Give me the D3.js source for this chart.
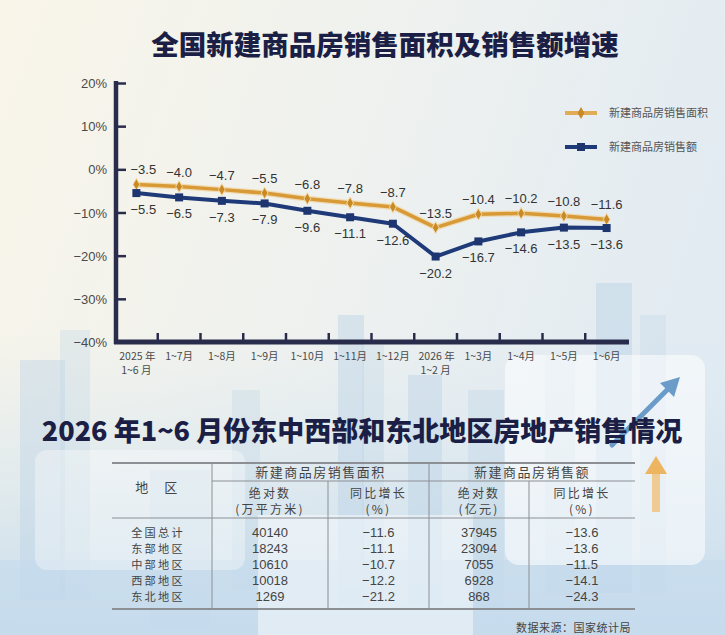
<!DOCTYPE html>
<html>
  <head>
    <meta charset="UTF-8" />
    <title>全国新建商品房销售面积及销售额增速</title>
    <style>
      html, body { margin: 0; padding: 0; background: #f3f3ee; }
      svg { display: block; }
    </style>
  </head>
  <body>
    <script src="https://cdn.jsdelivr.net/npm/d3@7/dist/d3.min.js"></script>
    <script>
      // chart data
      var months = ["2025 年|1~6 月", "1~7月", "1~8月", "1~9月", "1~10月", "1~11月",
                    "1~12月", "2026 年|1~2 月", "1~3月", "1~4月", "1~5月", "1~6月"];
      var areaGrowth  = [-3.5, -4.0, -4.7, -5.5, -6.8, -7.8, -8.7, -13.5, -10.4, -10.2, -10.8, -11.6];
      var salesGrowth = [-5.5, -6.5, -7.3, -7.9, -9.6, -11.1, -12.6, -20.2, -16.7, -14.6, -13.5, -13.6];
      var yTicks = [20, 10, 0, -10, -20, -30, -40];
      var seriesNames = ["新建商品房销售面积", "新建商品房销售额"];

      // table data
      var regions   = ["全国总计", "东部地区", "中部地区", "西部地区", "东北地区"];
      var areaAbs   = ["40140", "18243", "10610", "10018", "1269"];
      var areaYoy   = ["-11.6", "-11.1", "-10.7", "-12.2", "-21.2"];
      var salesAbs  = ["37945", "23094", "7055", "6928", "868"];
      var salesYoy  = ["-13.6", "-13.6", "-11.5", "-14.1", "-24.3"];

      var W = 725, H = 635;
      var orange = "#d89a36", navy = "#1f3a78", axisCol = "#2a2c4c";
      var cjk = "'Noto Sans CJK SC', sans-serif";
      var num = "'Liberation Sans', 'Noto Sans CJK SC', sans-serif";

      function minus(s) { return String(s).replace("-", "\u2212"); }

      var svg = d3.select("body").append("svg")
                  .attr("width", W).attr("height", H);

      // --- background ---
      var defs = svg.append("defs");
      var bg = defs.append("linearGradient").attr("id", "bg")
                   .attr("x1", 0).attr("y1", 0).attr("x2", 1).attr("y2", 0.3);
      bg.append("stop").attr("offset", "0%").attr("stop-color", "#f9f5e9");
      bg.append("stop").attr("offset", "55%").attr("stop-color", "#eef1ef");
      bg.append("stop").attr("offset", "100%").attr("stop-color", "#e2ebf2");
      var bottomFade = defs.append("linearGradient").attr("id", "bottomFade")
                   .attr("x1", 0).attr("y1", 0).attr("x2", 0).attr("y2", 1);
      bottomFade.append("stop").attr("offset", "0%").attr("stop-color", "#d6e6f1").attr("stop-opacity", 0);
      bottomFade.append("stop").attr("offset", "100%").attr("stop-color", "#c7dcec").attr("stop-opacity", 1);

      svg.append("rect").attr("width", W).attr("height", H).attr("fill", "url(#bg)");
      svg.append("rect").attr("y", 330).attr("width", W).attr("height", 305).attr("fill", "url(#bottomFade)");

      // decorative buildings
      var deco = svg.append("g").attr("fill", "#bcd3e6");
      [[20, 360, 45, 240, 0.4], [60, 330, 30, 270, 0.3], [232, 390, 28, 200, 0.3],
       [338, 315, 26, 290, 0.45], [362, 345, 22, 260, 0.3], [408, 375, 34, 230, 0.45],
       [468, 390, 36, 220, 0.35], [596, 283, 36, 310, 0.5], [640, 315, 26, 280, 0.3],
       [545, 355, 30, 240, 0.3], [150, 470, 60, 160, 0.25]]
        .forEach(function(b) {
          deco.append("rect").attr("x", b[0]).attr("y", b[1])
              .attr("width", b[2]).attr("height", b[3]).attr("opacity", b[4]);
        });
      svg.append("rect").attr("x", 0).attr("y", 560).attr("width", W).attr("height", 75)
         .attr("fill", "#c4dbec").attr("opacity", 0.6);

      // light panels
      svg.append("rect").attr("x", 505).attr("y", 355).attr("width", 200).attr("height", 210)
         .attr("rx", 14).attr("fill", "#ffffff").attr("opacity", 0.55);
      svg.append("rect").attr("x", 35).attr("y", 450).attr("width", 210).attr("height", 120)
         .attr("rx", 12).attr("fill", "#ffffff").attr("opacity", 0.35);
      svg.append("rect").attr("x", 258).attr("y", 515).attr("width", 215).attr("height", 120)
         .attr("fill", "#ffffff").attr("opacity", 0.45);

      // arrows
      svg.append("line").attr("x1", 612).attr("y1", 445).attr("x2", 672).attr("y2", 385)
         .attr("stroke", "#6b9cc9").attr("stroke-width", 5).attr("stroke-linecap", "round");
      svg.append("path").attr("d", "M680,377 L660,383 L674,397 Z").attr("fill", "#6b9cc9");
      svg.append("rect").attr("x", 652).attr("y", 472).attr("width", 8).attr("height", 40)
         .attr("fill", "#f0c27a").attr("opacity", 0.8);
      svg.append("path").attr("d", "M656,456 L645,474 L667,474 Z").attr("fill", "#eeb560");

      // --- title ---
      svg.append("text").attr("x", 385).attr("y", 55)
         .attr("text-anchor", "middle")
         .attr("font-family", cjk).attr("font-weight", 900).attr("font-size", 27.5)
         .attr("fill", "#1c1f45")
         .text("全国新建商品房销售面积及销售额增速");

      // --- line chart ---
      var x = d3.scaleBand().domain(d3.range(months.length)).range([115, 628]);
      var y = d3.scaleLinear().domain([-40, 20]).range([342, 83]);
      var cx = function(i) { return x(i) + x.bandwidth() / 2; };

      var chart = svg.append("g");

      // y axis
      var yAxis = d3.axisRight(y).tickValues(yTicks).tickSize(10).tickFormat("");
      var yg = chart.append("g").attr("transform", "translate(116,0)").call(yAxis);
      yg.select(".domain").remove();
      yg.selectAll(".tick line").attr("stroke", axisCol).attr("stroke-width", 2.5);
      chart.append("line").attr("x1", 116).attr("x2", 116).attr("y1", 81).attr("y2", 344)
           .attr("stroke", axisCol).attr("stroke-width", 4.5);

      chart.selectAll(".ylab").data(yTicks).enter().append("text")
           .attr("class", "ylab")
           .attr("x", 107).attr("y", function(d) { return y(d) + 5; })
           .attr("text-anchor", "end")
           .attr("font-family", num).attr("font-size", 13).attr("fill", "#4a4a4a")
           .text(function(d) { return minus(d) + "%"; });

      // x axis
      var xg = chart.append("g").attr("transform", "translate(0,342)");
      xg.selectAll("line.xt").data(d3.range(1, months.length)).enter().append("line")
        .attr("class", "xt")
        .attr("x1", function(i) { return x(i); }).attr("x2", function(i) { return x(i); })
        .attr("y1", 0).attr("y2", -9)
        .attr("stroke", axisCol).attr("stroke-width", 2.5);
      chart.append("line").attr("x1", 114).attr("x2", 629).attr("y1", 342).attr("y2", 342)
           .attr("stroke", axisCol).attr("stroke-width", 5);

      // two-line labels are drawn as separate texts so they do not overlap
      months.forEach(function(d, i) {
        var parts = d.split("|");
        parts.forEach(function(p, k) {
          chart.append("text").attr("class", "xlab")
               .attr("x", cx(i) + (k === 0 && parts.length > 1 ? 1 : 0))
               .attr("y", 360 + k * 14)
               .attr("text-anchor", "middle")
               .attr("font-family", cjk).attr("font-size", 10.5).attr("fill", "#4a4a4a")
               .text(p);
        });
      });

      // lines
      var line = d3.line().x(function(d, i) { return cx(i); }).y(function(d) { return y(d); });

      chart.append("path").datum(areaGrowth).attr("d", line)
           .attr("fill", "none").attr("stroke", "#f1d29a").attr("stroke-width", 6)
           .attr("stroke-linejoin", "round").attr("opacity", 0.7);
      chart.append("path").datum(areaGrowth).attr("d", line)
           .attr("fill", "none").attr("stroke", orange).attr("stroke-width", 3.5)
           .attr("stroke-linejoin", "round");
      chart.append("path").datum(salesGrowth).attr("d", line)
           .attr("fill", "none").attr("stroke", navy).attr("stroke-width", 4)
           .attr("stroke-linejoin", "round");

      var diamond = d3.symbol().type(d3.symbolDiamond).size(40);
      chart.selectAll(".pa").data(areaGrowth).enter().append("path")
           .attr("class", "pa").attr("d", diamond)
           .attr("transform", function(d, i) { return "translate(" + cx(i) + "," + y(d) + ")"; })
           .attr("fill", "#c98a26").attr("stroke", "#f3d9a6").attr("stroke-width", 1);
      chart.selectAll(".ps").data(salesGrowth).enter().append("rect")
           .attr("class", "ps")
           .attr("x", function(d, i) { return cx(i) - 4; })
           .attr("y", function(d) { return y(d) - 4; })
           .attr("width", 8).attr("height", 8)
           .attr("fill", "#1d3670");

      // value labels
      chart.selectAll(".la").data(areaGrowth).enter().append("text")
           .attr("class", "la")
           .attr("x", function(d, i) { return cx(i) + (i === 0 ? 7 : 0); })
           .attr("y", function(d) { return y(d) - 10; })
           .attr("text-anchor", "middle")
           .attr("font-family", num).attr("font-size", 13).attr("fill", "#333")
           .text(function(d) { return minus(d.toFixed(1)); });
      chart.selectAll(".ls").data(salesGrowth).enter().append("text")
           .attr("class", "ls")
           .attr("x", function(d, i) { return cx(i) + (i === 0 ? 7 : 0); })
           .attr("y", function(d) { return y(d) + 21; })
           .attr("text-anchor", "middle")
           .attr("font-family", num).attr("font-size", 13).attr("fill", "#333")
           .text(function(d) { return minus(d.toFixed(1)); });

      // legend
      var legend = svg.append("g");
      [orange, navy].forEach(function(col, k) {
        var ly = 113 + k * 34;
        legend.append("line").attr("x1", 565).attr("x2", 597).attr("y1", ly).attr("y2", ly)
              .attr("stroke", k === 0 ? "#e0ac55" : navy).attr("stroke-width", 4);
        if (k === 0) {
          legend.append("path").attr("d", diamond)
                .attr("transform", "translate(581," + ly + ")").attr("fill", "#c98a26");
        } else {
          legend.append("rect").attr("x", 577).attr("y", ly - 4)
                .attr("width", 8).attr("height", 8).attr("fill", "#1d3670");
        }
        legend.append("text").attr("x", 609).attr("y", ly + 4)
              .attr("font-family", cjk).attr("font-size", 11).attr("fill", "#555")
              .text(seriesNames[k]);
      });

      // --- second title ---
      svg.append("text").attr("x", 362).attr("y", 441)
         .attr("text-anchor", "middle")
         .attr("font-family", cjk).attr("font-weight", 900).attr("font-size", 27)
         .attr("fill", "#1c1f45")
         .text("2026 年1~6 月份东中西部和东北地区房地产销售情况");

      // --- table ---
      var colEdges = [112, 212, 328, 429, 529, 635];
      var colMid = function(c) { return (colEdges[c] + colEdges[c + 1]) / 2; };
      var tTop = 463, tHead1 = 481, tHead = 518, tBottom = 609;
      var tbl = svg.append("g");
      var grid = "#8c8f94";

      tbl.append("line").attr("x1", colEdges[0]).attr("x2", colEdges[5]).attr("y1", tTop).attr("y2", tTop)
         .attr("stroke", grid).attr("stroke-width", 2);
      tbl.append("line").attr("x1", colEdges[0]).attr("x2", colEdges[5]).attr("y1", tBottom).attr("y2", tBottom)
         .attr("stroke", grid).attr("stroke-width", 2);
      tbl.append("line").attr("x1", colEdges[1]).attr("x2", colEdges[5]).attr("y1", tHead1).attr("y2", tHead1)
         .attr("stroke", grid).attr("stroke-width", 1);
      tbl.append("line").attr("x1", colEdges[0]).attr("x2", colEdges[5]).attr("y1", tHead).attr("y2", tHead)
         .attr("stroke", grid).attr("stroke-width", 1.2);
      [1, 3].forEach(function(c) {
        tbl.append("line").attr("x1", colEdges[c]).attr("x2", colEdges[c])
           .attr("y1", tTop).attr("y2", tBottom).attr("stroke", grid).attr("stroke-width", 1);
      });
      [2, 4].forEach(function(c) {
        tbl.append("line").attr("x1", colEdges[c]).attr("x2", colEdges[c])
           .attr("y1", tHead1).attr("y2", tBottom).attr("stroke", grid).attr("stroke-width", 1);
      });

      function cell(xp, yp, txt, fam, fs) {
        tbl.append("text").attr("x", xp).attr("y", yp)
           .attr("text-anchor", "middle")
           .attr("font-family", fam || cjk).attr("font-size", fs || 13)
           .attr("letter-spacing", fam ? 0 : (fs ? 2.2 : 1.5))
           .attr("fill", "#444").text(txt);
      }

      cell(157, 492, "地　区");
      cell((colEdges[1] + colEdges[3]) / 2, 477, seriesNames[0]);
      cell((colEdges[3] + colEdges[5]) / 2, 477, seriesNames[1]);
      var sub1 = ["绝对数", "同比增长", "绝对数", "同比增长"];
      var sub2 = ["(万平方米)", "(%)", "(亿元)", "(%)"];
      sub1.forEach(function(s, k) { cell(colMid(k + 1), 498, s, null, 12); });
      sub2.forEach(function(s, k) { cell(colMid(k + 1), 514, s, null, 12); });

      var cols = [areaAbs, areaYoy, salesAbs, salesYoy];
      regions.forEach(function(r, i) {
        var ry = 537 + i * 16;
        cell(158, ry, r, null, 11.2);
        cols.forEach(function(arr, k) { cell(colMid(k + 1), ry, minus(arr[i]), num); });
      });

      svg.append("text").attr("x", 631).attr("y", 632)
         .attr("text-anchor", "end")
         .attr("font-family", cjk).attr("font-size", 11).attr("letter-spacing", 0.5)
         .attr("fill", "#444").text("数据来源：国家统计局");
    </script>
  </body>
</html>
